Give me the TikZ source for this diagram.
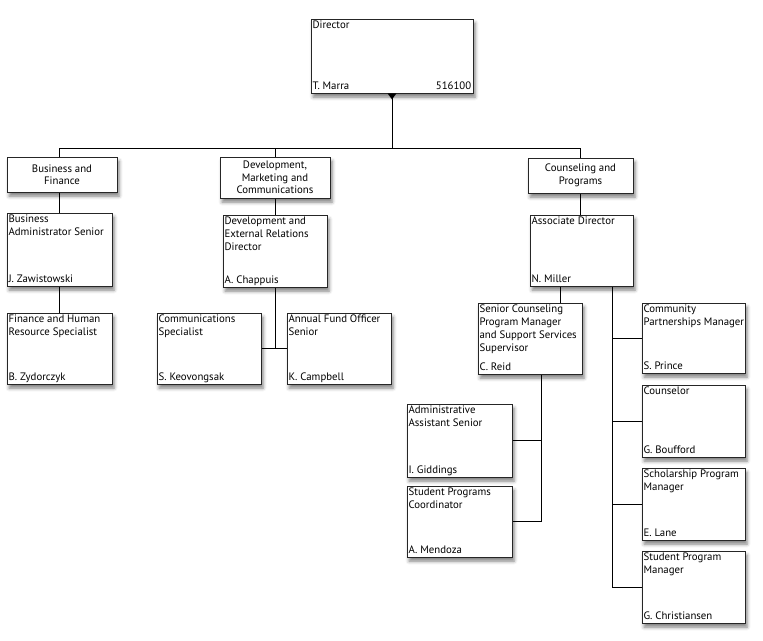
\documentclass[tikz,border=0pt]{standalone}
\usepackage{fontspec}
\setmainfont{PT Sans}
\usetikzlibrary{fit,shadows.blur}
\pgfdeclarelayer{background}
\pgfsetlayers{background,main}
\tikzset{
  pbox/.style={draw=black!85, line width=0.8pt, fill=white, inner sep=0pt,
    blur shadow={shadow xshift=2pt, shadow yshift=-4pt, shadow blur radius=3.5pt, shadow opacity=50}},
  txt/.style={inner sep=0pt, font=\fontsize{10.8}{13}\selectfont, align=left},
  ctxt/.style={inner sep=0pt, font=\fontsize{10.8}{12.5}\selectfont, align=center},
  conn/.style={draw=black, line width=0.9pt}
}
\newcommand\orgbox[7]{%
  \path (#2,#3) coordinate (#1nw) (#4,#5) coordinate (#1se);
  \node[pbox, fit=(#1nw)(#1se)] (#1) {};
  \node[txt, anchor=north west] (#1t) at ([shift={(1.8pt,-2.3pt)}]#1.north west) {#6};
  \node[txt, anchor=base west] (#1p) at ([shift={(1.8pt,3.5pt)}]#1.south west) {#7};
}
\newcommand\deptbox[6]{%
  \path (#2,#3) coordinate (#1nw) (#4,#5) coordinate (#1se);
  \node[pbox, fit=(#1nw)(#1se)] (#1) {};
  \node[ctxt] (#1t) at (#1.center) {#6};
}
\begin{document}
\begin{tikzpicture}[x=1pt,y=-1pt]
\useasboundingbox (0,0) rectangle (763,640);
% boxes
\orgbox{dir}{311}{19}{473}{93}{Director}{T. Marra}
\node[txt, anchor=base east] (dirn) at ([shift={(-2pt,3.5pt)}]dir.south east) {516100};
\fill[black] ([xshift=-4.5pt]dir.south) -- ([xshift=4.5pt]dir.south) -- ([yshift=-6pt]dir.south) -- cycle;

\deptbox{bf}{7}{157}{117}{192}{Business and\\Finance}
\deptbox{dmc}{220}{157}{330}{198}{Development,\\Marketing and\\Communications}
\deptbox{cp}{528}{158}{633}{193}{Counseling and\\Programs}

\orgbox{bas}{7}{213}{112}{286}{Business\\Administrator Senior}{J. Zawistowski}
\orgbox{fhr}{7}{313}{112}{384}{Finance and Human\\Resource Specialist}{B. Zydorczyk}

\orgbox{dd}{223}{215}{327}{287}{Development and\\External Relations\\Director}{A. Chappuis}
\orgbox{cs}{157}{313}{261}{384}{Communications\\Specialist}{S. Keovongsak}
\orgbox{af}{287}{313}{391}{384}{Annual Fund Officer\\Senior}{K. Campbell}

\orgbox{ad}{530}{215}{633}{286}{Associate Director}{N. Miller}
\orgbox{scs}{478}{303}{582}{374}{Senior Counseling\\Program Manager\\and Support Services\\Supervisor}{C. Reid}
\orgbox{aas}{407}{404}{512}{477}{Administrative\\Assistant Senior}{I. Giddings}
\orgbox{spc}{407}{486}{512}{557}{Student Programs\\Coordinator}{A. Mendoza}

\orgbox{cpm}{642}{303}{745}{373}{Community\\Partnerships Manager}{S. Prince}
\orgbox{cou}{642}{385}{745}{457}{Counselor}{G. Boufford}
\orgbox{sch}{642}{468}{745}{540}{Scholarship Program\\Manager}{E. Lane}
\orgbox{spm}{642}{551}{745}{623}{Student Program\\Manager}{G. Christiansen}

% connector coordinates
\coordinate (hb) at (0,148);
\coordinate (adL) at (560,286);
\coordinate (adR) at (612,286);
\coordinate (scsB) at (541,374);

\begin{pgfonlayer}{background}
\draw[conn] (dir.south) -- (dir.south |- hb);
\draw[conn] (bas.north |- hb) -- (cp.north |- hb);
\draw[conn] (bas.north |- hb) -- (bas.north);
\draw[conn] (bas.south) -- (fhr.north);
\draw[conn] (dmc.north |- hb) -- (dmc.north);
\draw[conn] (dmc.south) -- (dd.north);
\draw[conn] (dd.south) -- (dd.south |- cs.east);
\draw[conn] (cs.east) -- (af.west);
\draw[conn] (cp.north |- hb) -- (cp.north);
\draw[conn] (cp.south) -- (cp.south |- ad.north);
\draw[conn] (adL) -- (adL |- scs.north);
\draw[conn] (adR) -- (adR |- spm.west) -- (spm.west);
\draw[conn] (adR |- cpm.west) -- (cpm.west);
\draw[conn] (adR |- cou.west) -- (cou.west);
\draw[conn] (adR |- sch.west) -- (sch.west);
\draw[conn] (scsB) -- (scsB |- spc.east) -- (spc.east);
\draw[conn] (scsB |- aas.east) -- (aas.east);
\end{pgfonlayer}
\end{tikzpicture}
\end{document}
